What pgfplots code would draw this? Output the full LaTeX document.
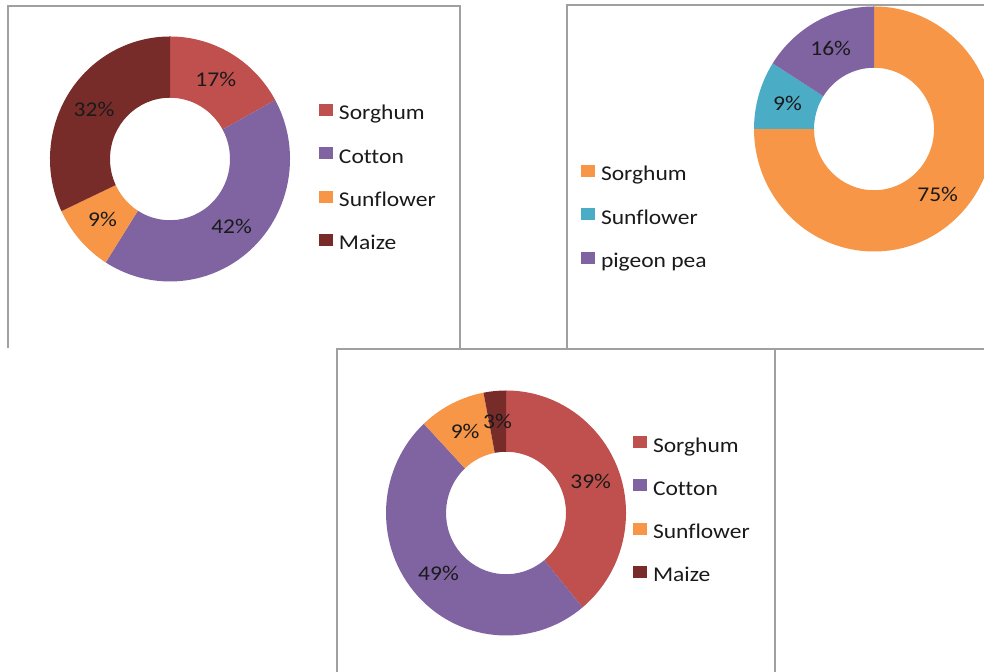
\documentclass[border=0pt]{standalone}
\usepackage{pgfplots}
\usepackage{pgfplotstable}
\pgfplotsset{compat=1.18}
\usepackage{fontspec}
\setmainfont{Carlito}[FakeStretch=1.12, Ligatures={NoCommon}]
\definecolor{cRed}{HTML}{C0504D}
\definecolor{cPurple}{HTML}{8064A2}
\definecolor{cOrange}{HTML}{F79646}
\definecolor{cMaroon}{HTML}{772C2A}
\definecolor{cTeal}{HTML}{4BACC6}
\definecolor{txt}{HTML}{1A1A1A}
\definecolor{frm}{HTML}{A0A0A0}
\newcommand\lbl{\fontsize{21bp}{25bp}\selectfont}

\pgfplotstableread[col sep=comma]{
crop,pct,col
Sorghum,17,cRed
Cotton,42,cPurple
Sunflower,9,cOrange
Maize,32,cMaroon
}\tabA
\pgfplotstableread[col sep=comma]{
crop,pct,col
Sorghum,75,cOrange
Sunflower,9,cTeal
pigeon pea,16,cPurple
}\tabB
\pgfplotstableread[col sep=comma]{
crop,pct,col
Sorghum,39,cRed
Cotton,49,cPurple
Sunflower,9,cOrange
Maize,3,cMaroon
}\tabC

% #1 table, #2 cx, #3 cy (axis units), #4 outer x radius, #5 outer y radius
\newcommand\donut[5]{%
 \pgfplotstablegetrowsof{#1}%
 \pgfmathtruncatemacro\lastrow{\pgfplotsretval-1}%
 \xdef\angacc{90}%
 \foreach \i in {0,...,\lastrow}{%
  \pgfplotstablegetelem{\i}{pct}\of{#1}\let\ppct\pgfplotsretval
  \pgfplotstablegetelem{\i}{col}\of{#1}\let\pcol\pgfplotsretval
  \pgfmathsetmacro\aend{\angacc-3.6*\ppct}%
  \pgfmathsetmacro\amid{(\angacc+\aend)/2}%
  \pgfmathsetmacro\rxi{#4/2}\pgfmathsetmacro\ryi{#5/2}%
  \pgfmathsetmacro\rxm{#4*0.75}\pgfmathsetmacro\rym{#5*0.75}%
  \fill[fill=\pcol, shift={(axis cs:#2,#3)}]
    (\angacc:#4bp and #5bp) arc[start angle=\angacc, end angle=\aend, x radius=#4bp, y radius=#5bp]
    -- (\aend:\rxi bp and \ryi bp) arc[start angle=\aend, end angle=\angacc, x radius=\rxi bp, y radius=\ryi bp] -- cycle;
  \node[text=txt, font=\lbl, inner sep=0pt] at ([shift={(\amid:\rxm bp and \rym bp)}]axis cs:#2,#3) {\ppct\%};
  \xdef\angacc{\aend}%
 }}

\pgfplotsset{donutax/.style={width=984bp, height=672bp, scale only axis,
  xmin=0, xmax=984, ymin=0, ymax=672, hide axis, clip=false,
  legend cell align=left,
  legend image code/.code={\fill[##1] (0bp,0bp) rectangle (14bp,12bp);},
  legend style={draw=none, fill=none, inner sep=0pt, outer sep=0pt,
    row sep=23.3bp, column sep=6bp, anchor=north west, font=\lbl, text=txt,
    nodes={inner sep=0pt, text height=12bp, text depth=4bp}}}}

\begin{document}
\begin{tikzpicture}
\useasboundingbox (0,0) rectangle (984bp,672bp);
\clip (0,0) rectangle (984bp,672bp);
\fill[white] (0,0) rectangle (984bp,672bp);
% chart frames
\draw[frm, line width=1.3bp] (8bp,324bp) -- (8bp,666bp) -- (460bp,666bp) -- (460bp,324bp);
\draw[frm, line width=1.3bp] (990bp,667bp) -- (567bp,667bp) -- (567bp,323bp) -- (990bp,323bp);
\draw[frm, line width=1.3bp] (337bp,-5bp) -- (337bp,323bp) -- (775bp,323bp) -- (775bp,-5bp);

\begin{axis}[donutax, legend style={at={(319/984,568/672)}}]
\pgfplotsextra{\donut{\tabA}{170}{513}{120}{122.5}}
\addlegendimage{fill=cRed, draw=none}\addlegendentry{Sorghum}
\addlegendimage{fill=cPurple, draw=none}\addlegendentry{Cotton}
\addlegendimage{fill=cOrange, draw=none}\addlegendentry{Sunflower}
\addlegendimage{fill=cMaroon, draw=none}\addlegendentry{Maize}
\end{axis}

\begin{axis}[donutax, legend style={at={(581/984,507/672)}}]
\pgfplotsextra{\donut{\tabB}{874}{543}{120}{122.5}}
\addlegendimage{fill=cOrange, draw=none}\addlegendentry{Sorghum}
\addlegendimage{fill=cTeal, draw=none}\addlegendentry{Sunflower}
\addlegendimage{fill=cPurple, draw=none}\addlegendentry{pigeon pea}
\end{axis}

\begin{axis}[donutax, legend style={at={(633/984,236/672)}}]
\pgfplotsextra{\donut{\tabC}{506}{159}{120}{122.5}}
\addlegendimage{fill=cRed, draw=none}\addlegendentry{Sorghum}
\addlegendimage{fill=cPurple, draw=none}\addlegendentry{Cotton}
\addlegendimage{fill=cOrange, draw=none}\addlegendentry{Sunflower}
\addlegendimage{fill=cMaroon, draw=none}\addlegendentry{Maize}
\end{axis}
\end{tikzpicture}
\end{document}
